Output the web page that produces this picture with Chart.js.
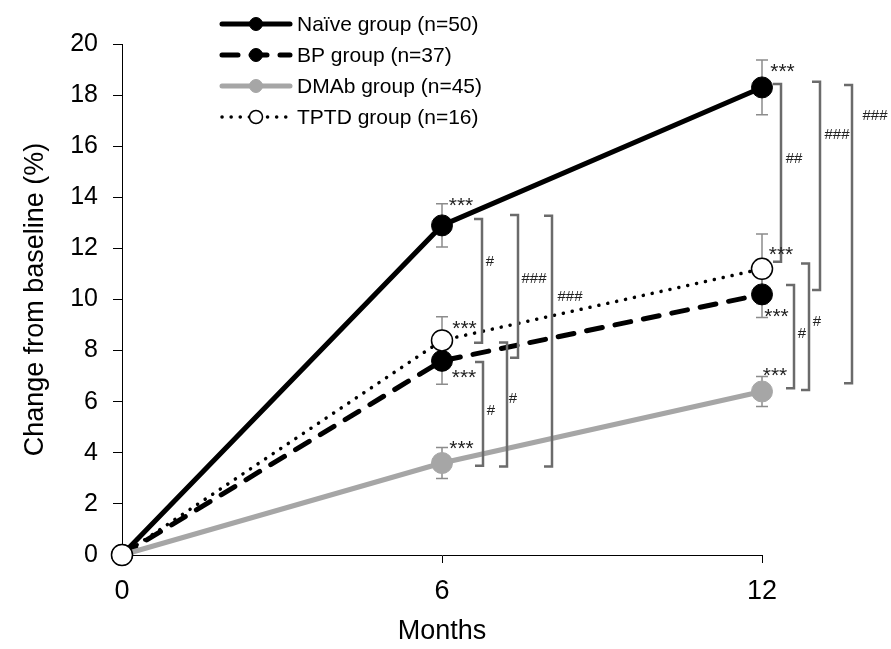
<!DOCTYPE html>
<html>
<head>
<meta charset="utf-8">
<script src="https://cdn.jsdelivr.net/npm/chart.js@4.4.1/dist/chart.umd.min.js"></script>
<style>
  html, body { margin: 0; padding: 0; background: #fff; }
  #wrap { width: 891px; height: 649px; }
</style>
</head>
<body>
<div id="wrap"><canvas id="chart" width="891" height="649"></canvas></div>
<script>
const FONT = "'Liberation Sans', Arial, sans-serif";

// months after baseline
const months = [0, 6, 12];
const xTicks = [0, 6, 12];

// mean change from baseline (%)
const naive = [0, 12.9, 18.3];
const bp = [0, 7.6, 10.2];
const dmab = [0, 3.6, 6.4];
const tptd = [0, 8.4, 11.2];

// error bar half-lengths
const naiveErr = [0, 0.85, 1.07];
const bpErr = [0, 0.92, 0.9];
const dmabErr = [0, 0.61, 0.59];
const tptdErr = [0, 0.92, 1.36];

const groupLabels = ["Naïve group (n=50)", "BP group (n=37)", "DMAb group (n=45)", "TPTD group (n=16)"];
const starText = "***";

// between-group comparisons (one entry per bracket)
const bracketMonth = [6, 6, 6, 6, 6, 12, 12, 12, 12, 12];
const bracketTop = [13.15, 13.31, 13.28, 7.55, 8.32, 18.43, 18.52, 18.40, 10.57, 11.41];
const bracketBottom = [8.31, 7.72, 3.46, 3.49, 3.46, 11.48, 10.37, 6.72, 6.53, 6.46];
const bracketText = ["#", "###", "###", "#", "#", "##", "###", "###", "#", "#"];
const bracketTextAt = [11.48, 10.80, 10.10, 5.65, 6.11, 15.50, 16.44, 17.18, 8.65, 9.13];

const series = [
  { label: groupLabels[0], data: naive, err: naiveErr, color: "#000", width: 5, dash: [], fill: "#000", pBorder: "#000", pWidth: 1 },
  { label: groupLabels[1], data: bp, err: bpErr, color: "#000", width: 5, dash: [16, 13], fill: "#000", pBorder: "#000", pWidth: 1 },
  { label: groupLabels[2], data: dmab, err: dmabErr, color: "#a6a6a6", width: 5, dash: [], fill: "#a6a6a6", pBorder: "#a6a6a6", pWidth: 1 },
  { label: groupLabels[3], data: tptd, err: tptdErr, color: "#000", width: 3.5, dash: [0.1, 9], fill: "#fff", pBorder: "#000", pWidth: 1.5 },
];

// pixel nudges for the hand-placed annotations
const starOffsets = [
  [[19, -25], [20.5, -21]],
  [[22, 11], [14.5, 17]],
  [[19.5, -20], [13, -21]],
  [[22.5, -17], [19, -20]],
];
const bracketDx = [40, 76, 110, 41, 65, 19, 58, 90, 32, 47];
const bracketLabelDx = [8, 16, 18, 8, 6, 13, 17, 23, 8, 8];

const annotate = {
  id: "annotate",
  beforeDatasetsDraw(chart) {
    const { ctx, scales: { x, y } } = chart;
    ctx.save();
    ctx.strokeStyle = "#8c8c8c";
    ctx.lineWidth = 1.5;
    series.forEach((s) => {
      s.err.forEach((e, j) => {
        if (!e) return;
        const px = x.getPixelForValue(months[j]);
        const y1 = y.getPixelForValue(s.data[j] + e);
        const y2 = y.getPixelForValue(s.data[j] - e);
        ctx.beginPath();
        ctx.moveTo(px, y1); ctx.lineTo(px, y2);
        ctx.moveTo(px - 6, y1); ctx.lineTo(px + 6, y1);
        ctx.moveTo(px - 6, y2); ctx.lineTo(px + 6, y2);
        ctx.stroke();
      });
    });
    ctx.restore();
  },
  afterDatasetsDraw(chart) {
    const { ctx, scales: { x, y } } = chart;
    ctx.save();
    // brackets
    ctx.strokeStyle = "#6b6b6b";
    ctx.lineWidth = 2.5;
    ctx.lineJoin = "miter";
    ctx.fillStyle = "#222";
    ctx.font = "15px " + FONT;
    ctx.textAlign = "center";
    ctx.textBaseline = "middle";
    bracketMonth.forEach((m, i) => {
      const bx = x.getPixelForValue(m) + bracketDx[i];
      const yt = y.getPixelForValue(bracketTop[i]);
      const yb = y.getPixelForValue(bracketBottom[i]);
      ctx.beginPath();
      ctx.moveTo(bx - 8, yt);
      ctx.lineTo(bx, yt);
      ctx.lineTo(bx, yb);
      ctx.lineTo(bx - 8, yb);
      ctx.stroke();
      ctx.fillText(bracketText[i], bx + bracketLabelDx[i], y.getPixelForValue(bracketTextAt[i]));
    });
    // significance stars vs baseline
    ctx.font = "21px " + FONT;
    ctx.textBaseline = "alphabetic";
    series.forEach((s, i) => {
      [1, 2].forEach((j, k) => {
        const [dx, dy] = starOffsets[i][k];
        const px = x.getPixelForValue(months[j]) + dx;
        const py = y.getPixelForValue(s.data[j]) + dy + 12;
        ctx.fillText(starText, px, py);
      });
    });
    ctx.restore();
  },
  afterDraw(chart) {
    const { ctx } = chart;
    ctx.save();
    series.forEach((s, i) => {
      const cy = 24 + 31 * i;
      ctx.strokeStyle = s.color;
      ctx.lineWidth = s.width;
      ctx.lineCap = "round";
      ctx.setLineDash(s.dash);
      ctx.beginPath();
      ctx.moveTo(222, cy);
      ctx.lineTo(290, cy);
      ctx.stroke();
      ctx.setLineDash([]);
      ctx.beginPath();
      ctx.arc(256, cy, 6.5, 0, Math.PI * 2);
      ctx.fillStyle = s.fill;
      ctx.fill();
      ctx.lineWidth = s.pWidth;
      ctx.strokeStyle = s.pBorder;
      ctx.stroke();
      ctx.fillStyle = "#000";
      ctx.font = "21px " + FONT;
      ctx.textAlign = "left";
      ctx.textBaseline = "middle";
      ctx.fillText(s.label, 297, cy + 1);
    });
    ctx.restore();
  },
};

new Chart(document.getElementById("chart"), {
  type: "line",
  data: {
    datasets: series.map((s, i) => ({
      label: s.label,
      data: months.map((m, j) => ({ x: m, y: s.data[j] })),
      borderColor: s.color,
      borderWidth: s.width,
      borderDash: s.dash,
      borderCapStyle: "round",
      pointRadius: 10.5,
      pointHoverRadius: 10.5,
      pointBackgroundColor: s.fill,
      pointBorderColor: s.pBorder,
      pointBorderWidth: s.pWidth,
      tension: 0,
      clip: false,
      order: 3 - i,
    })),
  },
  options: {
    responsive: false,
    animation: false,
    events: [],
    layout: { padding: { left: 0, top: 44, right: 129, bottom: 0 } },
    plugins: { legend: { display: false }, tooltip: { enabled: false } },
    scales: {
      x: {
        type: "linear",
        min: 0,
        max: 12,
        afterBuildTicks: (s) => { s.ticks = xTicks.map((v) => ({ value: v })); },
        afterFit: (s) => { s.height = 94; },
        ticks: { color: "#000", padding: 12, font: { family: FONT, size: 27 } },
        grid: { drawOnChartArea: false, drawTicks: true, tickLength: 8, color: "#000" },
        border: { color: "#000", width: 1 },
        title: { display: true, text: "Months", color: "#000", font: { family: FONT, size: 27 }, padding: { top: 0, bottom: 1 } },
      },
      y: {
        min: 0,
        max: 20,
        afterFit: (s) => { s.width = 122; },
        ticks: { stepSize: 2, color: "#000", padding: 15, font: { family: FONT, size: 25 } },
        grid: { drawOnChartArea: false, drawTicks: true, tickLength: 9, color: "#000" },
        border: { color: "#000", width: 1 },
        title: { display: true, text: "Change from baseline (%)", color: "#000", font: { family: FONT, size: 27 }, padding: { top: 19, bottom: 0 } },
      },
    },
  },
  plugins: [annotate],
});
</script>
</body>
</html>
